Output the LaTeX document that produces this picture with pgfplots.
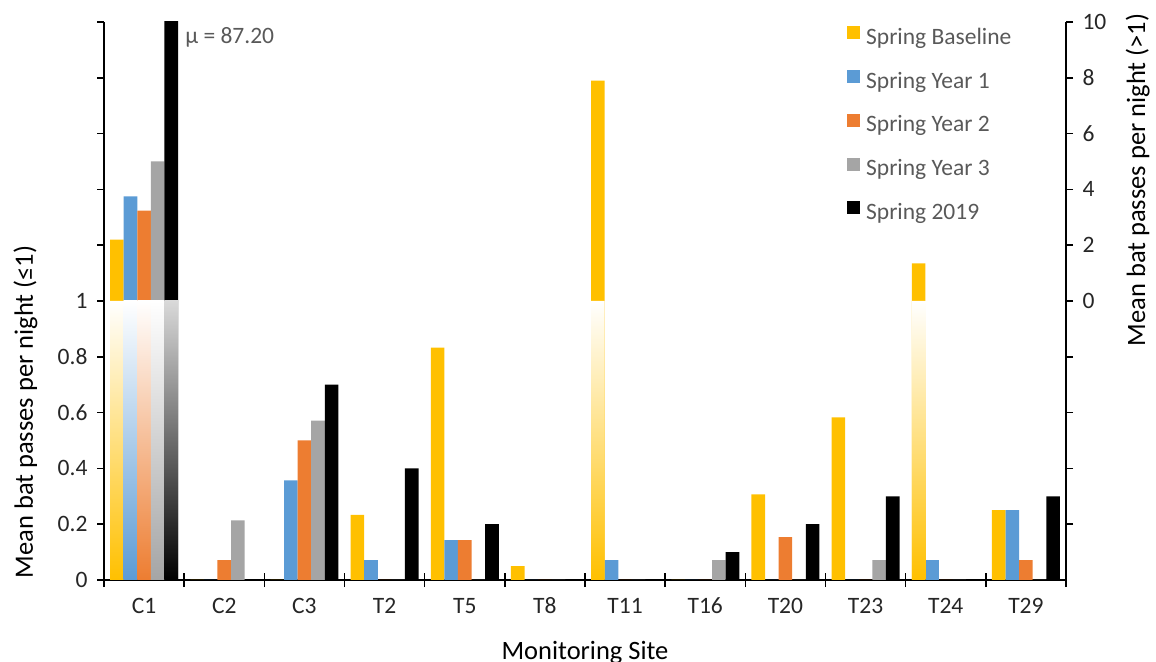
\documentclass[border=0pt]{standalone}
\usepackage{fontspec}
\setmainfont{Carlito}
\usepackage{pgfplots}
\usepackage{pgfplotstable}
\pgfplotsset{compat=1.18}
\definecolor{cYel}{HTML}{FFC000}
\definecolor{cBlu}{HTML}{5B9BD5}
\definecolor{cOra}{HTML}{ED7D31}
\definecolor{cGra}{HTML}{A5A5A5}
\definecolor{cBlk}{HTML}{000000}
\definecolor{txt}{HTML}{595959}

% Real values (mean bat passes per night); values > 1 are drawn on the upper (right) scale
\pgfplotstableread{
x base y1 y2 y3 y19
0 2.2 3.75 3.24 5.0 87.2
1 0 0 0.071 0.214 0
2 0 0.357 0.5 0.571 0.7
3 0.233 0.071 0 0 0.4
4 0.833 0.143 0.143 0 0.2
5 0.05 0 0 0 0
6 7.9 0.071 0 0 0
7 0 0 0 0.071 0.1
8 0.307 0 0.154 0 0.2
9 0.583 0 0 0.071 0.3
10 1.35 0.071 0 0 0
11 0.25 0.25 0.071 0 0.3
}\bardata

\newcommand{\tickfont}{\fontsize{23.5}{28}\selectfont}
\newcommand{\labfont}{\fontsize{26.5}{32}\selectfont}

\begin{document}
\begin{tikzpicture}
\path[use as bounding box] (-104pt,-81pt) rectangle (1052pt,580pt);
\begin{axis}[
  scale only axis, width=962pt, height=558pt,
  at={(0pt,0pt)}, anchor=south west,
  xmin=-0.5, xmax=11.5, ymin=0, ymax=2,
  y filter/.expression={y>1 ? 1+y/10 : y},
  axis x line*=bottom, axis y line*=left,
  axis line style={-, line width=1.6pt, black},
  tick style={line width=1.6pt, black},
  tick align=outside,
  major tick length=7pt,
  minor tick length=14pt,
  xtick={0,1,2,3,4,5,6,7,8,9,10,11},
  xticklabels={C1,C2,C3,T2,T5,T8,T11,T16,T20,T23,T24,T29},
  minor xtick={-0.5,0.5,1.5,2.5,3.5,4.5,5.5,6.5,7.5,8.5,9.5,10.5,11.5},
  major x tick style={draw=none},
  minor x tick style={yshift=7pt},
  ytick={0,0.2,0.4,0.6,0.8,1,1.2,1.4,1.6,1.8,2},
  yticklabels={0,0.2,0.4,0.6,0.8,1,{},{},{},{},{}},
  xticklabel style={font=\tickfont, text=black!85, anchor=base, yshift=-26pt},
  yticklabel style={font=\tickfont, text=black!85, xshift=-6pt},
  legend image code/.code={\fill[#1] (0pt,-1pt) rectangle (13pt,12pt);},
  legend cell align=left,
  legend style={at={(0.7723,0.9928)}, anchor=north west, draw=none, fill=none,
    inner sep=0pt, font=\tickfont, text=txt, row sep=20.8pt,
    nodes={inner sep=0pt, text height=17pt, text depth=5pt},
    /tikz/every odd column/.style={column sep=6pt}},
]
\addplot[ybar, bar width=13.6pt, bar shift=-27.2pt, fill=cYel, draw=none] table[x=x,y=base]{\bardata};
\addplot[ybar, bar width=13.6pt, bar shift=-13.6pt, fill=cBlu, draw=none] table[x=x,y=y1]{\bardata};
\addplot[ybar, bar width=13.6pt, bar shift=0pt, fill=cOra, draw=none] table[x=x,y=y2]{\bardata};
\addplot[ybar, bar width=13.6pt, bar shift=13.6pt, fill=cGra, draw=none] table[x=x,y=y3]{\bardata};
\addplot[ybar, bar width=13.6pt, bar shift=27.2pt, fill=cBlk, draw=none] table[x=x,y=y19]{\bardata};
% faded lower parts of the bars that exceed 1
\addplot[ybar, bar width=13.6pt, bar shift=-27.2pt, draw=none, top color=white, bottom color=cYel, forget plot] coordinates {(0,1) (6,1) (10,1)};
\addplot[ybar, bar width=13.6pt, bar shift=-13.6pt, draw=none, top color=white, bottom color=cBlu, forget plot] coordinates {(0,1)};
\addplot[ybar, bar width=13.6pt, bar shift=0pt, draw=none, top color=white, bottom color=cOra, forget plot] coordinates {(0,1)};
\addplot[ybar, bar width=13.6pt, bar shift=13.6pt, draw=none, top color=white, bottom color=cGra, forget plot] coordinates {(0,1)};
\addplot[ybar, bar width=13.6pt, bar shift=27.2pt, draw=none, top color=black!15, bottom color=black, forget plot] coordinates {(0,1)};
\node[anchor=base west, xshift=41pt, text=txt, font=\tickfont, inner sep=0pt] at (axis cs:0,1.9247) {μ = 87.20};
\legend{Spring Baseline, Spring Year 1, Spring Year 2, Spring Year 3, Spring 2019}
\end{axis}
\begin{axis}[
  scale only axis, width=962pt, height=558pt,
  at={(0pt,0pt)}, anchor=south west,
  xmin=-0.5, xmax=11.5, ymin=0, ymax=2,
  axis x line=none, axis y line*=right,
  axis line style={-, line width=1.6pt, black},
  tick style={line width=1.6pt, black},
  tick align=outside,
  major tick length=7pt,
  ytick={0.2,0.4,0.6,0.8,1,1.2,1.4,1.6,1.8,2},
  yticklabels={{},{},{},{},0,2,4,6,8,10},
  yticklabel style={font=\tickfont, text=black!85, xshift=6pt},
]
\end{axis}
\node[rotate=90, anchor=base, font=\labfont, inner sep=0pt] at (-71pt,168pt) {Mean bat passes per night (≤1)};
\node[rotate=90, anchor=base, font=\labfont, inner sep=0pt] at (1041pt,400pt) {Mean bat passes per night (>1)};
\node[anchor=base, font=\labfont, inner sep=0pt] at (481pt,-79pt) {Monitoring Site};
\end{tikzpicture}
\end{document}
